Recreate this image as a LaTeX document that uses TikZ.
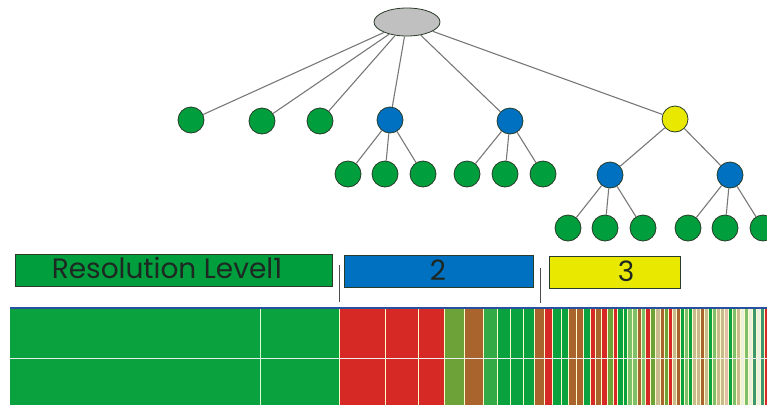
\documentclass[tikz,border=0pt]{standalone}
\usepackage{fontspec}
\setmainfont{Poppins}
\usetikzlibrary{shapes.geometric}
\definecolor{ngreen}{RGB}{0,158,60}
\definecolor{nblue}{RGB}{0,112,192}
\definecolor{nyellow}{RGB}{232,232,0}
\definecolor{ngray}{RGB}{192,192,192}
\definecolor{outl}{RGB}{40,60,40}
\definecolor{edgec}{RGB}{120,120,120}
\definecolor{sred}{RGB}{214,40,36}
\definecolor{sbrown}{RGB}{168,100,44}
\definecolor{solive}{RGB}{108,162,56}
\definecolor{sgreen}{RGB}{10,162,62}
\definecolor{smgreen}{RGB}{50,170,70}
\definecolor{slgreen}{RGB}{125,192,105}
\definecolor{stan}{RGB}{200,186,140}
\definecolor{spale}{RGB}{236,240,222}
\definecolor{spink}{RGB}{226,190,168}
\definecolor{steal}{RGB}{60,150,110}
\definecolor{lineblue}{RGB}{40,80,160}
\definecolor{txtc}{RGB}{30,40,35}
\begin{document}
\begin{tikzpicture}[x=1pt,y=-1pt,
  tnode/.style={circle,minimum size=26pt,inner sep=0pt,draw=outl,line width=0.8pt},
  gnode/.style={tnode,fill=ngreen},
  bnode/.style={tnode,fill=nblue},
  ynode/.style={tnode,fill=nyellow},
  rootnode/.style={ellipse,minimum width=66pt,minimum height=28pt,inner sep=0pt,fill=ngray,draw=outl,line width=0.8pt},
  edge/.style={draw=edgec,line width=1.1pt},
  labbox/.style={rectangle,draw=outl,line width=0.8pt,inner sep=0pt,anchor=north west},
  labtxt/.style={text=txtc,font=\fontsize{28}{28}\selectfont},
  sep/.style={draw=black!70,line width=0.9pt}]
\useasboundingbox (0,0) rectangle (767,405);
% tree
\node[rootnode] (r) at (407,22) {};
\node[gnode] (a1) at (191,120) {};
\node[gnode] (a2) at (262,121) {};
\node[gnode] (a3) at (320,121) {};
\node[bnode] (a4) at (390,120) {};
\node[bnode] (a5) at (510,121) {};
\node[ynode] (a6) at (675,119) {};
\node[gnode] (b1) at (348,174) {};
\node[gnode] (b2) at (385,174) {};
\node[gnode] (b3) at (423,174) {};
\node[gnode] (b4) at (467,174) {};
\node[gnode] (b5) at (505,174) {};
\node[gnode] (b6) at (543,174) {};
\node[bnode] (b7) at (610,175) {};
\node[bnode] (b8) at (730,175) {};
\node[gnode] (c1) at (568,228) {};
\node[gnode] (c2) at (605,228) {};
\node[gnode] (c3) at (643,228) {};
\node[gnode] (c4) at (688,228) {};
\node[gnode] (c5) at (725,228) {};
\node[gnode] (c6) at (763,228) {};
\foreach \c in {a1,a2,a3,a4,a5,a6} \draw[edge] (r) -- (\c);
\foreach \c in {b1,b2,b3} \draw[edge] (a4) -- (\c);
\foreach \c in {b4,b5,b6} \draw[edge] (a5) -- (\c);
\foreach \c in {b7,b8} \draw[edge] (a6) -- (\c);
\foreach \c in {c1,c2,c3} \draw[edge] (b7) -- (\c);
\foreach \c in {c4,c5,c6} \draw[edge] (b8) -- (\c);
% label boxes
\node[labbox,fill=ngreen,minimum width=317pt,minimum height=32pt] (lab1) at (15,254) {};
\node[labbox,fill=nblue,minimum width=189pt,minimum height=32pt] (lab2) at (344,255) {};
\node[labbox,fill=nyellow,minimum width=131pt,minimum height=32pt] (lab3) at (549,256) {};
\node[labtxt] (t1) at (167,268) {Resolution Level1};
\node[labtxt] (t2) at (438,270) {2};
\node[labtxt] (t3) at (626,271) {3};
% separators
\coordinate (s1a) at (339,265); \coordinate (s1b) at (339,302);
\coordinate (s2a) at (540,268); \coordinate (s2b) at (540,303);
\draw[sep] (s1a) -- (s1b);
\draw[sep] (s2a) -- (s2b);
% bars
\fill[sgreen] (10,309) rectangle (339,405);
\draw[white!85!green,line width=1pt] (260,309) -- (260,405);
\foreach \a/\b/\c in {339/385/sred,385/418/sred,418/444/sred,444/464/solive,464/483/sbrown,
  483/497/smgreen,497/510/sgreen,510/523/sgreen,523/534/sgreen,534/544/sbrown,544/552/sred,
  552/561/sgreen,561/568/sgreen,568/576/sbrown,576/583/sbrown,583/590/sgreen,590/595/sred,
  595/601/sbrown,601/607/sred,607/613/solive,613/617/sred,617/623/sgreen,623/627/sgreen,
  627/632/slgreen,632/637/slgreen,637/641/sbrown,641/645/slgreen,645/650/sred,650/655/solive,
  655/660/stan,660/664/sbrown,664/668/solive,668/672/sred,672/676/stan,676/680/sbrown,
  680/684/sgreen,684/688/slgreen,688/692/sgreen,692/696/stan,696/700/stan,700/704/sbrown,
  704/708/stan,708/712/sgreen,712/716/slgreen,716/720/stan,720/724/stan,724/728/spink,
  728/732/sgreen,732/736/slgreen,736/740/stan,740/744/spale,744/748/slgreen,748/752/spale,
  752/756/steal,756/760/spale,760/764/steal,764/767/sred}
{
  \fill[\c] (\a,309) rectangle (\b,405);
  \draw[white!80!yellow,line width=0.8pt] (\a,309) -- (\a,405);
}
\draw[white!85!gray,line width=1pt] (10,358) -- (767,358);
\draw[lineblue,line width=1.5pt] (10,308) -- (767,308);
\end{tikzpicture}
\end{document}
